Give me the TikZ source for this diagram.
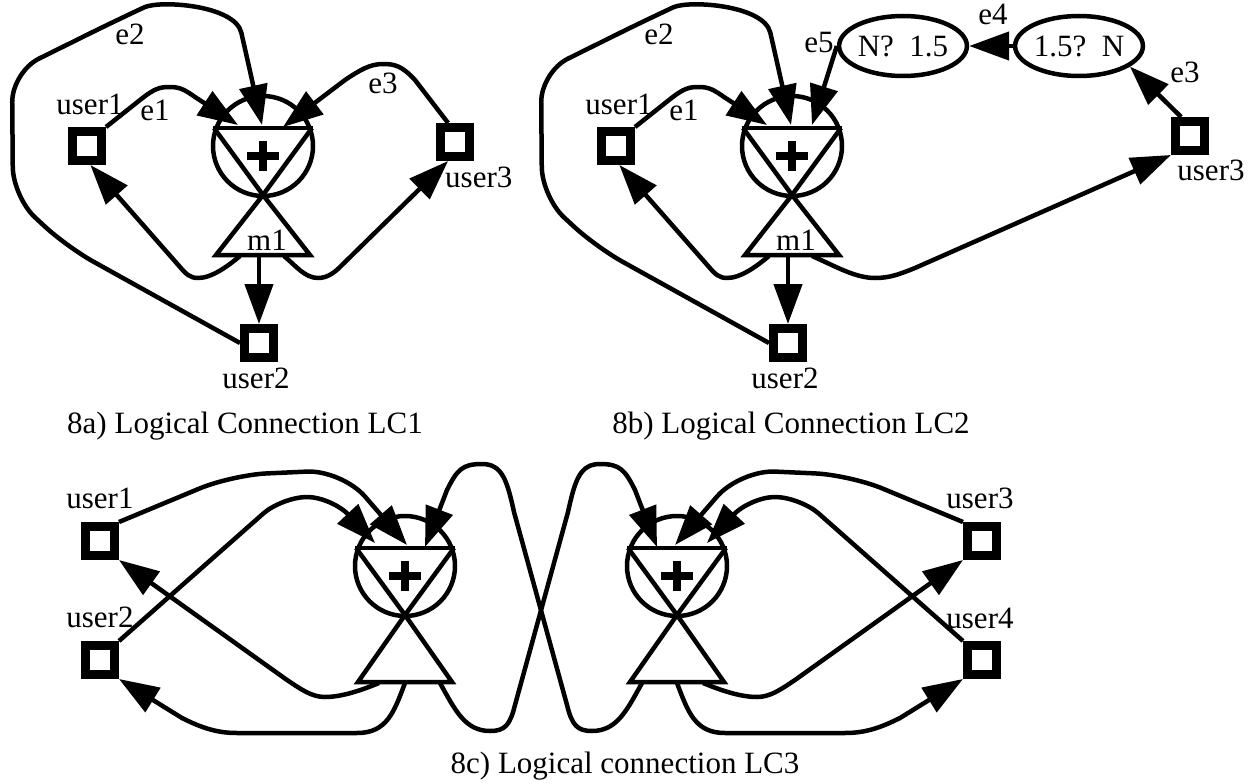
\documentclass[tikz,border=0pt]{standalone}
\usepackage{fontspec}
\setmainfont{Liberation Serif}
\usetikzlibrary{arrows.meta,shapes.geometric}
\tikzset{
  pics/mixer/.style={code={
    \node[circle, draw, line width=4.5pt, minimum size=100pt, inner sep=0pt] (-c) at (0,0) {};
    \draw[line width=4.5pt] (-50,-18) -- (50,-18);
    \draw[line width=4.5pt, line join=miter] (-49,-18) -- (0,49) -- (49,-18);
    \draw[line width=4.5pt, line join=miter] (0,49) -- (-47,#1) -- (47,#1) -- cycle;
    \draw[line width=8.5pt] (-16,10) -- (16,10) (0,-5) -- (0,25);
  }}
}
\begin{document}
\begin{tikzpicture}[x=1pt,y=-1pt,
  font=\fontsize{31}{36}\selectfont,
  arr/.style={line width=4.5pt, line join=round, -{Triangle[length=40pt,width=28pt]}},
  ubox/.style={draw, line width=9pt, minimum size=29pt, inner sep=0pt},
  ell/.style={draw, ellipse, line width=4.5pt, minimum width=118pt, minimum height=60pt, inner sep=0pt},
  lbl/.style={anchor=base, inner sep=0pt}]
\useasboundingbox (0,0) rectangle (1259,784);

% ================= 8a =================
\pic (A) at (263,146) {mixer=109};
\node[ubox] (a1) at (87,146) {};
\node[ubox] (a2) at (259,343) {};
\node[ubox] (a3) at (455,142) {};
\coordinate (at1) at (238,125);
\coordinate (at2) at (262,125);
\coordinate (at3) at (283,127);
\coordinate (am1) at (240,256);
\coordinate (am2) at (259,256);
\coordinate (am3) at (284,256);
% e1
\draw[arr] (a1.north east) -- (140,100) .. controls (155,88) and (160,87) .. (170,87) .. controls (180,87) and (185,90) .. (195,97) -- (at1);
% e2
\draw[arr, rounded corners=30pt] (a2.west) -- (67,247) -- (13,197) -- (12,72) -- (117,20) .. controls (160,0) and (235,5) .. (248,62) -- (at2);
% e3
\draw[arr] (a3.110) -- (415,80) .. controls (402,66) and (395,64) .. (383,64) .. controls (370,64) and (360,70) .. (345,80) -- (at3);
% m1 outputs
\draw[arr] (am2) -- (a2.north);
\draw[arr] (am1) .. controls (228,266) and (212,278) .. (198,278) .. controls (190,278) and (186,274) .. (180,267) -- (a1.280);
\draw[arr] (am3) .. controls (296,266) and (305,278) .. (318,278) .. controls (326,278) and (333,274) .. (340,267) -- (a3.250);
% labels
\node[lbl] at (90,114) {user1};
\node[lbl] at (155,121) {e1};
\node[lbl] at (130,45) {e2};
\node[lbl] at (383,93) {e3};
\node[lbl] at (267,250) {m1};
\node[lbl] at (256,388) {user2};
\node[lbl, anchor=base west] at (445,187) {user3};
\node[lbl] at (245,433) {8a) Logical Connection LC1};

% ================= 8b =================
\pic (B) at (792,146) {mixer=109};
\node[ubox] (b1) at (616,146) {};
\node[ubox] (b2) at (788,343) {};
\node[ubox] (b3) at (1190,136) {};
\node[ell] (E1) at (903,46) {N?\ \ 1.5};
\node[ell] (E2) at (1079,46) {1.5?\ \ N};
\coordinate (bt1) at (767,125);
\coordinate (bt2) at (791,125);
\coordinate (bt3) at (812,125);
\coordinate (bm1) at (769,256);
\coordinate (bm2) at (788,256);
\coordinate (bm3) at (812,256);
% e1
\draw[arr] (b1.north east) -- (669,100) .. controls (684,88) and (689,87) .. (699,87) .. controls (709,87) and (714,90) .. (724,97) -- (bt1);
% e2
\draw[arr, rounded corners=30pt] (b2.west) -- (596,247) -- (542,197) -- (541,72) -- (646,20) .. controls (689,0) and (764,5) .. (777,62) -- (bt2);
% e5, e4, e3
\draw[arr] (E1.west) -- (bt3);
\draw[arr] (E2.west) -- (E1.east);
\draw[arr] (b3.115) -- (E2.-22);
% m1 outputs
\draw[arr] (bm2) -- (b2.north);
\draw[arr] (bm1) .. controls (757,266) and (741,278) .. (727,278) .. controls (719,278) and (715,274) .. (709,267) -- (b1.280);
\draw[arr] (bm3) .. controls (835,266) and (855,278) .. (875,278) .. controls (890,278) and (900,274) .. (915,268) -- (b3.south west);
% labels
\node[lbl] at (619,114) {user1};
\node[lbl] at (684,121) {e1};
\node[lbl] at (659,45) {e2};
\node[lbl] at (796,250) {m1};
\node[lbl] at (785,388) {user2};
\node[lbl] at (819,53) {e5};
\node[lbl] at (993,25) {e4};
\node[lbl] at (1185,82) {e3};
\node[lbl] at (1211,180) {user3};
\node[lbl] at (791,433) {8b) Logical Connection LC2};

% ================= 8c =================
\pic (C) at (405,566) {mixer=116};
\pic (D) at (677,566) {mixer=116};
\node[ubox] (c1) at (100,541) {};
\node[ubox] (c2) at (100,660) {};
\node[ubox] (d3) at (982,541) {};
\node[ubox] (d4) at (982,660) {};
\coordinate (ct1) at (375,543);
\coordinate (ct2) at (407,545);
\coordinate (ct3) at (425,547);
\coordinate (dt1) at (657,547);
\coordinate (dt2) at (675,545);
\coordinate (dt3) at (707,543);
\coordinate (cb1) at (379,683);
\coordinate (cb2) at (405,683);
\coordinate (cb3) at (440,683);
\coordinate (db1) at (642,683);
\coordinate (db2) at (677,683);
\coordinate (db3) at (703,683);
% crossing loops
\draw[arr] (cb3) .. controls (455,710) and (465,731) .. (490,731) .. controls (505,731) and (510,725) .. (515,705) -- (568,512) .. controls (575,480) and (580,464) .. (600,464) .. controls (620,464) and (625,470) .. (635,490) -- (dt1);
\draw[arr] (db1) .. controls (627,710) and (617,731) .. (592,731) .. controls (577,731) and (572,725) .. (567,705) -- (514,512) .. controls (507,480) and (502,464) .. (482,464) .. controls (462,464) and (457,470) .. (447,490) -- (ct3);
% right cluster
\draw[arr, rounded corners=35pt] (d3.north west) -- (850,475) -- (740,470) -- (dt2);
\draw[arr, rounded corners=25pt] (d4.north west) -- (800,497) -- (750,497) -- (dt3);
\draw[arr] (db3) .. controls (720,690) and (740,697) .. (757,697) .. controls (770,697) and (780,690) .. (795,680) -- (d3.south west);
\draw[arr] (db2) .. controls (688,712) and (695,733) .. (725,733) -- (845,733) .. controls (865,733) and (880,728) .. (900,718) -- (d4.south west);
% left cluster
\draw[arr, rounded corners=35pt] (c1.north east) -- (232,475) -- (342,470) -- (ct2);
\draw[arr, rounded corners=25pt] (c2.north east) -- (282,497) -- (332,497) -- (ct1);
\draw[arr] (cb1) .. controls (362,690) and (342,697) .. (325,697) .. controls (312,697) and (302,690) .. (287,680) -- (c1.south east);
\draw[arr] (cb2) .. controls (394,712) and (387,733) .. (357,733) -- (237,733) .. controls (217,733) and (202,728) .. (182,718) -- (c2.south east);
% labels
\node[lbl] at (100,508) {user1};
\node[lbl] at (100,627) {user2};
\node[lbl] at (980,508) {user3};
\node[lbl] at (980,628) {user4};
\node[lbl] at (625,773) {8c) Logical connection LC3};
\end{tikzpicture}
\end{document}
